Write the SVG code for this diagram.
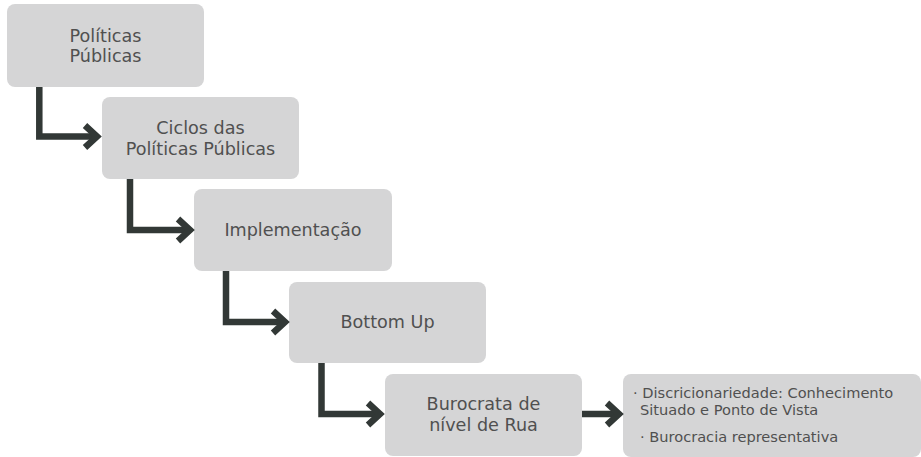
<svg xmlns="http://www.w3.org/2000/svg" width="921" height="457" viewBox="0 0 921 457">
<style>
.box{fill:#d5d5d6;}
.t{font-family:"DejaVu Sans",sans-serif;font-size:17.6px;fill:#505050;text-anchor:middle;}
.s{font-family:"DejaVu Sans",sans-serif;font-size:14.6px;fill:#505050;}
.c{fill:none;stroke:#323836;stroke-width:6.5;stroke-linejoin:miter;}
</style>
<rect width="921" height="457" fill="#ffffff"/>
<g id="n1"><rect class="box" x="7" y="4" width="197" height="83" rx="8"/><text class="t" x="105.5" y="42">Políticas</text><text class="t" x="105.5" y="62">Públicas</text></g>
<g id="n2"><rect class="box" x="102" y="97" width="197" height="82" rx="8"/><text class="t" x="200.5" y="134">Ciclos das</text><text class="t" x="200.5" y="155">Políticas Públicas</text></g>
<g id="n3"><rect class="box" x="194" y="189" width="198" height="82" rx="8"/><text class="t" x="293" y="236">Implementação</text></g>
<g id="n4"><rect class="box" x="289" y="282" width="197" height="81" rx="8"/><text class="t" x="387.5" y="328">Bottom Up</text></g>
<g id="n5"><rect class="box" x="385" y="374" width="197" height="82" rx="8"/><text class="t" x="483.5" y="410">Burocrata de</text><text class="t" x="483.5" y="431">nível de Rua</text></g>
<g id="n6"><rect class="box" x="623" y="374" width="298" height="83" rx="8"/><text class="s" x="633" y="398">· Discricionariedade: Conhecimento</text><text class="s" x="640" y="415">Situado e Ponto de Vista</text><text class="s" x="640" y="442">· Burocracia representativa</text></g>
<g id="connectors">
<path class="c" d="M39.3,87 V136.5 H97"/><polyline class="c" points="85,125.5 97,136.5 85,147.5"/>
<path class="c" d="M130,179 V230 H190"/><polyline class="c" points="178,219 190,230 178,241"/>
<path class="c" d="M226,271 V322 H285"/><polyline class="c" points="273,311 285,322 273,333"/>
<path class="c" d="M321.5,363 V414 H380"/><polyline class="c" points="368,403 380,414 368,425"/>
<path class="c" d="M582,414 H619"/><polyline class="c" points="607,403 619,414 607,425"/>
</g>
</svg>
